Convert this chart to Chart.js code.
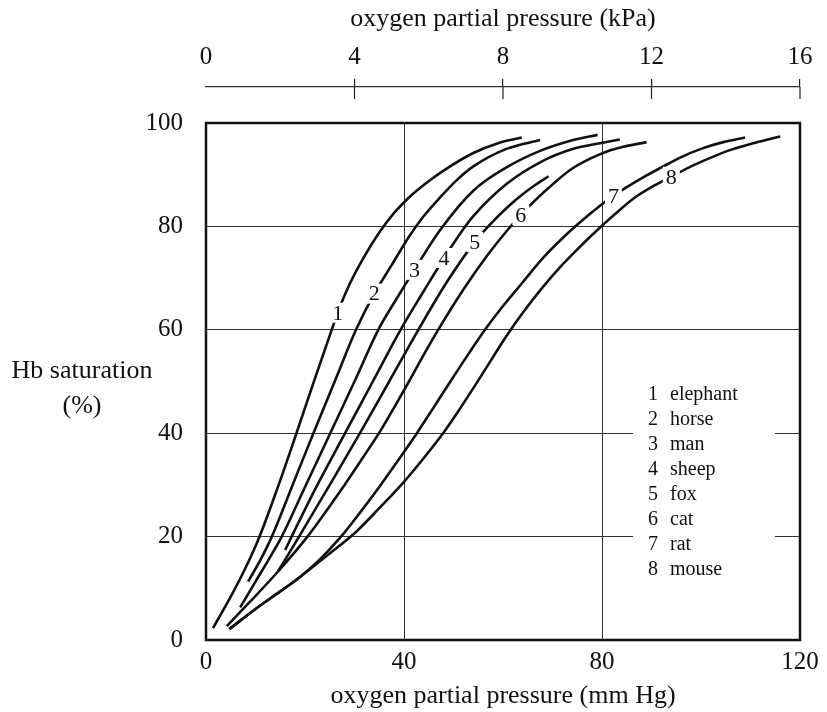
<!DOCTYPE html>
<html>
<head>
<meta charset="utf-8">
<title>Oxygen dissociation curves</title>
<script src="https://cdn.jsdelivr.net/npm/chart.js@4.4.1/dist/chart.umd.min.js"></script>
<style>
  body { margin: 0; background: #fff; }
  canvas { display: block; }
</style>
</head>
<body>
<canvas id="curves" width="827" height="712"></canvas>
<script>
'use strict'

// Hb saturation (%) against oxygen partial pressure (mm Hg), one curve per species

const species = ['elephant', 'horse', 'man', 'sheep', 'fox', 'cat', 'rat', 'mouse'];

const elephantP = [1.4, 4.5, 7.5, 10.6, 14.3, 18.1, 21.8, 25.4, 26.6, 29, 32, 35, 38, 41, 44.5, 48, 54, 59, 63.8];
const elephantSat = [2.3, 7.5, 13, 19.5, 29, 39.5, 50, 60, 63.3, 68.8, 74.2, 78.8, 82.6, 85.6, 88.4, 90.8, 94.2, 96.1, 97.2];

const horseP = [8.5, 11, 13.3, 17.5, 21.7, 26, 30.3, 34, 37.5, 41, 44, 47.3, 50.5, 54, 60.7, 67.5];
const horseSat = [11.3, 15.5, 20, 30, 40, 50, 60, 67, 72.5, 78, 82, 85.6, 88.8, 91.6, 95, 96.7];

const manP = [6.9, 10, 12.8, 15.3, 20, 25.1, 30, 34.8, 38.5, 42.1, 47.3, 54, 60.7, 67.5, 74.2, 79.1];
const manSat = [6.3, 11.3, 15.8, 20, 29.6, 40, 50, 60, 66, 71.6, 79.3, 86.9, 91.4, 94.6, 96.7, 97.7];

const sheepP = [16, 17.3, 22.5, 28.1, 33.7, 39.3, 44, 48.1, 52, 54, 60.7, 67.5, 74.2, 79.6, 83.6];
const sheepSat = [17.4, 20, 30, 40, 50, 60, 67.5, 73.9, 79.5, 82, 88.2, 92.4, 95, 96.1, 96.8];

const foxP = [14.5, 18.8, 25, 31.1, 37, 42.9, 48.5, 54.3, 57.4, 61, 64.1, 66.5, 69.2];
const foxSat = [13.2, 20, 30, 40, 50, 60, 69, 77, 80.4, 83.8, 86.3, 88, 89.7];

const catP = [4.2, 9, 14.5, 20.5, 28, 31.5, 35.2, 38.2, 41, 44, 46.9, 52, 57, 61, 63.6, 66, 70.8, 74, 77.6, 81, 84.3, 89];
const catSat = [2.7, 7.5, 13.2, 20, 30, 35, 40.4, 45.3, 50, 55.2, 60, 67.8, 74.6, 79.4, 82.2, 84.6, 88.8, 91.2, 93.1, 94.5, 95.4, 96.3];

const ratP = [4.7, 10, 15, 19, 23, 27.1, 31, 35, 39, 42.6, 46, 49.5, 53, 56.5, 60, 64, 68, 72, 75.2, 79.6, 82.3, 85, 88.5, 92, 96, 100, 104.5, 108.9];
const ratSat = [2.1, 6, 9.4, 12.2, 15.6, 19.8, 24.5, 29.6, 35, 40, 45, 50.2, 55.3, 60.2, 64.6, 69.2, 73.8, 77.7, 80.5, 84, 85.9, 87.6, 89.6, 91.4, 93.4, 95, 96.3, 97.2];

const mouseP = [4.7, 10, 15, 19, 24, 30.4, 35, 40, 44, 47.9, 51, 54.2, 57.5, 60.7, 64, 68, 72, 76, 79.6, 83, 86.5, 90, 94, 98, 102, 106, 111, 116];
const mouseSat = [2.1, 6, 9.4, 12.2, 16, 21, 25.5, 30.6, 35.2, 40, 44.3, 49, 54, 58.8, 63.3, 68.2, 72.6, 76.5, 79.8, 82.7, 85.5, 87.6, 89.6, 91.6, 93.3, 94.8, 96.2, 97.4];

const curves = [
  [elephantP, elephantSat],
  [horseP, horseSat],
  [manP, manSat],
  [sheepP, sheepSat],
  [foxP, foxSat],
  [catP, catSat],
  [ratP, ratSat],
  [mouseP, mouseSat]
];

// index of the point where each curve gets its number written on it
const labelAt = [8, 7, 9, 7, 7, 14, 20, 22];

const mmHgTicks = [0, 40, 80, 120];
const kPaTicks = [0, 4, 8, 12, 16];
const satTicks = [0, 20, 40, 60, 80, 100];

const serif = '"Liberation Serif", "Times New Roman", serif';
Chart.defaults.font.family = serif;
Chart.defaults.color = '#111';

function useTicks(list) {
  return function(scale) {
    scale.ticks = list.map(function(v) { return { value: v }; });
  };
}

// numbers on the curves, the key box, the frame and the y title
const extras = {
  id: 'extras',
  afterDatasetsDraw(chart) {
    const ctx = chart.ctx;
    const area = chart.chartArea;
    ctx.save();
    ctx.textAlign = 'center';
    ctx.textBaseline = 'middle';

    ctx.font = '22px ' + serif;
    chart.data.datasets.forEach(function(ds, i) {
      const pt = chart.getDatasetMeta(i).data[labelAt[i]];
      const txt = String(i + 1);
      const w = ctx.measureText(txt).width + 6;
      ctx.fillStyle = '#fff';
      ctx.fillRect(pt.x - w / 2, pt.y - 10, w, 20);
      ctx.fillStyle = '#111';
      ctx.fillText(txt, pt.x, pt.y + 1);
    });

    // key
    ctx.fillStyle = '#fff';
    ctx.fillRect(area.right - 167, area.bottom - 262, 142, 207);
    ctx.fillStyle = '#111';
    ctx.font = '20px ' + serif;
    species.forEach(function(name, i) {
      const y = area.bottom - 245 + i * 25;
      ctx.textAlign = 'center';
      ctx.fillText(String(i + 1), area.right - 147, y);
      ctx.textAlign = 'left';
      ctx.fillText(name, area.right - 130, y);
    });

    // frame
    ctx.strokeStyle = '#111';
    ctx.lineWidth = 2.5;
    ctx.strokeRect(area.left, area.top, area.right - area.left, area.bottom - area.top);
    ctx.restore();
  },
  afterDraw(chart) {
    const ctx = chart.ctx;
    const area = chart.chartArea;
    const kpa = chart.scales.kpa;
    ctx.save();

    // kPa tick marks carry on below the line
    ctx.strokeStyle = '#222';
    ctx.lineWidth = 1.2;
    kPaTicks.forEach(function(v) {
      if (v === 0) return;
      const x = kpa.getPixelForValue(v);
      ctx.beginPath();
      ctx.moveTo(x, kpa.bottom);
      ctx.lineTo(x, kpa.bottom + 12);
      ctx.stroke();
    });

    // y title written level, in two lines
    const mid = (area.top + area.bottom) / 2;
    ctx.fillStyle = '#111';
    ctx.textAlign = 'center';
    ctx.textBaseline = 'middle';
    ctx.font = '26px ' + serif;
    ctx.fillText('Hb saturation', area.left - 124, mid - 10);
    ctx.fillText('(%)', area.left - 124, mid + 25);
    ctx.restore();
  }
};

const ctx = document.getElementById('curves').getContext('2d');

const chart = new Chart(ctx, {
  type: 'scatter',
  data: {
    datasets: curves.map(function(c, i) {
      return {
        label: species[i],
        data: c[0].map(function(p, k) { return { x: p, y: c[1][k] }; }),
        showLine: true,
        borderColor: '#111',
        borderWidth: 2.6,
        pointRadius: 0,
        cubicInterpolationMode: 'monotone',
        fill: false
      };
    })
  },
  options: {
    responsive: false,
    animation: false,
    layout: { padding: { top: 0, right: 27, bottom: 0, left: 0 } },
    plugins: {
      legend: { display: false },
      tooltip: { enabled: false }
    },
    scales: {
      x: {
        type: 'linear',
        position: 'bottom',
        min: 0,
        max: 120,
        afterBuildTicks: useTicks(mmHgTicks),
        grid: { color: '#333', lineWidth: 1, drawTicks: false },
        border: { display: false },
        ticks: { font: { size: 25 }, padding: 7, maxRotation: 0, autoSkip: false },
        title: {
          display: true,
          text: 'oxygen partial pressure (mm Hg)',
          font: { size: 26 },
          padding: { top: 0, bottom: 0 }
        },
        afterFit: function(s) { s.height = 72; }
      },
      y: {
        type: 'linear',
        position: 'left',
        min: 0,
        max: 100,
        afterBuildTicks: useTicks(satTicks),
        grid: { color: '#333', lineWidth: 1, drawTicks: false },
        border: { display: false },
        ticks: { font: { size: 25 }, padding: 23 },
        afterFit: function(s) { s.width = 206; }
      },
      // empty band between the kPa scale and the plot
      gap: {
        type: 'linear',
        position: 'top',
        axis: 'x',
        weight: 0,
        grid: { display: false },
        ticks: { display: false },
        border: { display: false },
        afterFit: function(s) { s.height = 36; }
      },
      kpa: {
        type: 'linear',
        position: 'top',
        axis: 'x',
        weight: 1,
        min: 0,
        max: 16,
        afterBuildTicks: useTicks(kPaTicks),
        grid: {
          drawOnChartArea: false,
          drawTicks: true,
          tickLength: 8,
          lineWidth: 1.2,
          color: function(c) { return c.tick && c.tick.value === 0 ? 'rgba(0,0,0,0)' : '#222'; }
        },
        border: { display: true, color: '#333', width: 1.3 },
        ticks: { font: { size: 25 }, padding: 7, maxRotation: 0, autoSkip: false },
        title: {
          display: true,
          text: 'oxygen partial pressure (kPa)',
          font: { size: 26 },
          padding: { top: 4, bottom: 0 }
        },
        afterFit: function(s) { s.height = 87; }
      }
    }
  },
  plugins: [extras]
});
</script>
</body>
</html>
